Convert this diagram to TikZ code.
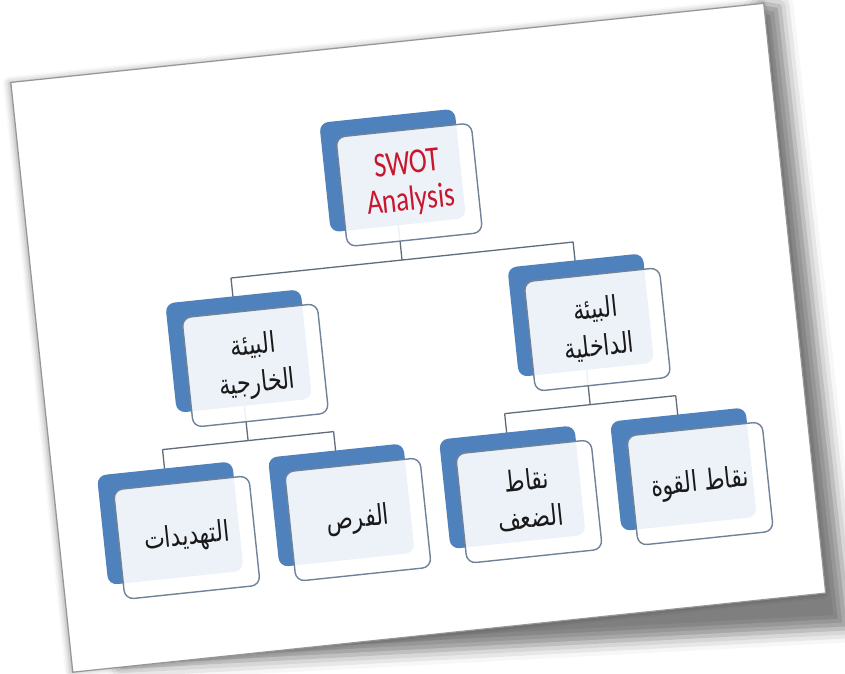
\documentclass[tikz,border=0pt]{standalone}
\usepackage{fontspec}
\usepackage{graphicx}
\usetikzlibrary{shadows.blur}
\TeXXeTstate=1
\newfontfamily\arabicfont[Script=Arabic]{DejaVu Sans}
\newfontfamily\titlefont{Carlito}
\definecolor{backblue}{RGB}{79,129,189}
\definecolor{frameline}{RGB}{112,130,152}
\definecolor{linkline}{RGB}{95,108,122}
\definecolor{titlered}{RGB}{200,22,45}
\definecolor{pageedge}{RGB}{150,150,150}
\pgfdeclarelayer{sheet}
\pgfdeclarelayer{wires}
\pgfsetlayers{sheet,wires,main}
% one or two centred lines, stretched a little upwards
\newcommand{\tallbox}[1]{\scalebox{1}[1.3]{\begin{tabular}{@{}c@{}}#1\end{tabular}}}
\newcommand{\ar}[1]{\beginR #1\endR}

\begin{document}
\begin{tikzpicture}[x=1pt,y=1pt,
  backbox/.style={transform shape, fill=backblue, rounded corners=9pt,
    minimum width=136pt, minimum height=110pt, inner sep=0pt},
  frontbox/.style={transform shape, draw=frameline, line width=1.4pt, fill=white,
    fill opacity=0.9, text opacity=1, rounded corners=9pt,
    minimum width=136pt, minimum height=110pt, inner sep=0pt},
  arabic/.style={font=\arabicfont\fontsize{22}{29}\selectfont, text=black!90},
  link/.style={draw=linkline, line width=1.3pt}
]
\useasboundingbox (0,0) rectangle (845,673);
\begin{scope}[shift={(418.25,335.25)}, rotate=6]
  \begin{pgfonlayer}{sheet}
  % shadows under the sheet
  \path[blur shadow={shadow xshift=0pt, shadow yshift=0pt,
      shadow blur radius=14pt, shadow opacity=50}]
    (-330,-296.5) -- (398,-334) -- (394,292) -- (378,296.5) -- cycle;
  \path[blur shadow={shadow xshift=-2pt, shadow yshift=0pt,
      shadow blur radius=6pt, shadow opacity=35}]
    (-378.5,296.5) -- (378.5,296.5) -- (378.5,-296.5) -- (-378.5,-296.5) -- cycle;
  % the sheet
  \draw[pageedge, line width=1.2pt, fill=white]
    (-378.5,296.5) -- (378.5,296.5) -- (378.5,-296.5) -- (-378.5,-296.5) -- cycle;
  \end{pgfonlayer}

  % blue back plates
  \node[backbox] (swotb) at (-8,169) {};
  \node[backbox] (extb) at (-180,5.5) {};
  \node[backbox] (intb) at (164,5.5) {};
  \node[backbox] (thrb) at (-266,-158.5) {};
  \node[backbox] (oppb) at (-94,-158.5) {};
  \node[backbox] (weab) at (78,-158.5) {};
  \node[backbox] (strb) at (250,-158.5) {};

  % connector junctions
  \coordinate (j0) at (-8,79);
  \coordinate (j1) at (-180,79);
  \coordinate (j2) at (164,79);
  \coordinate (k0) at (-180,-84.5);
  \coordinate (k1) at (-266,-84.5);
  \coordinate (k2) at (-94,-84.5);
  \coordinate (m0) at (164,-84.5);
  \coordinate (m1) at (78,-84.5);
  \coordinate (m2) at (250,-84.5);

  \begin{pgfonlayer}{wires}
  \draw[link] (swotb.center) -- (j0) (j1) -- (j2) (j1) -- (extb.center) (j2) -- (intb.center);
  \draw[link] (extb.center) -- (k0) (k1) -- (k2) (k1) -- (thrb.center) (k2) -- (oppb.center);
  \draw[link] (intb.center) -- (m0) (m1) -- (m2) (m1) -- (weab.center) (m2) -- (strb.center);
  \end{pgfonlayer}

  % white front cards with their texts
  \node[frontbox, text=titlered, font=\titlefont\fontsize{27}{28}\selectfont] (swot) at (7,153)
    {\tallbox{SWOT\\Analysis}};
  \node[frontbox, arabic] (ext) at (-165,-10.5) {\tallbox{\ar{البيئة}\\\ar{الخارجية}}};
  \node[frontbox, arabic] (int) at (179,-10.5) {\tallbox{\ar{البيئة}\\\ar{الداخلية}}};
  \node[frontbox, arabic] (thr) at (-251,-174.5) {\tallbox{\ar{التهديدات}}};
  \node[frontbox, arabic] (opp) at (-79,-174.5) {\tallbox{\ar{الفرص}}};
  \node[frontbox, arabic] (wea) at (93,-174.5) {\tallbox{\ar{نقاط}\\\ar{الضعف}}};
  \node[frontbox, arabic] (str) at (265,-174.5) {\tallbox{\ar{نقاط القوة}}};
\end{scope}
\end{tikzpicture}
\end{document}
